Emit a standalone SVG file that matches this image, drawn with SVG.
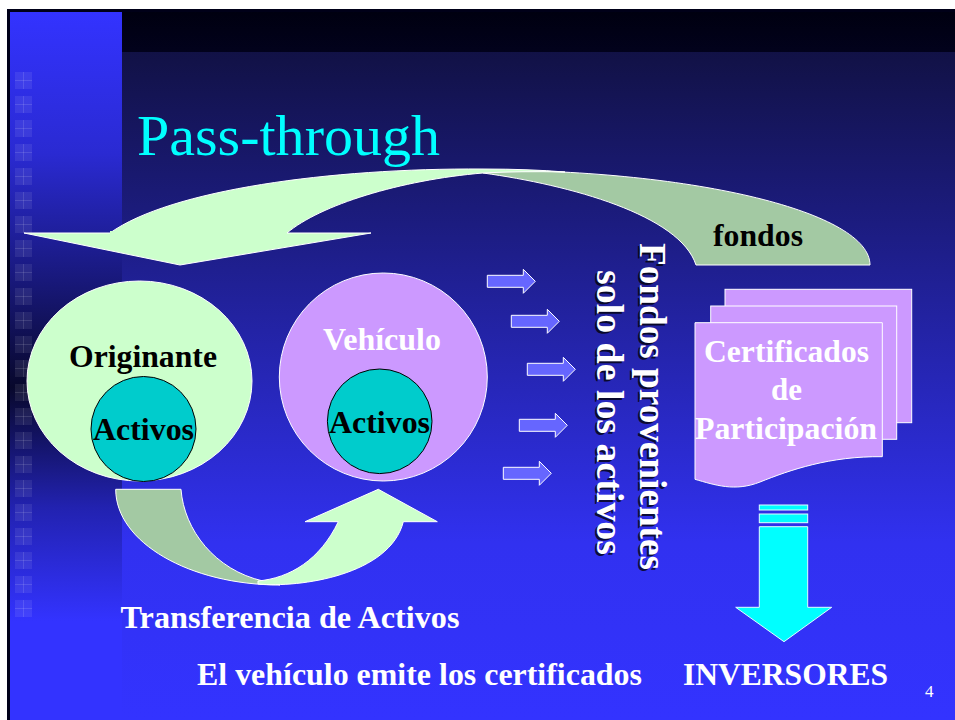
<svg xmlns="http://www.w3.org/2000/svg" width="955" height="720" viewBox="0 0 955 720">
<defs>
<linearGradient id="bg" x1="0" y1="0" x2="0" y2="1" gradientUnits="objectBoundingBox">
<stop offset="0" stop-color="#0f0f38"/>
<stop offset="0.3" stop-color="#1c1c80"/>
<stop offset="0.75" stop-color="#3131f0"/>
<stop offset="1" stop-color="#3333ff"/>
</linearGradient>
<linearGradient id="col" x1="0" y1="12" x2="0" y2="720" gradientUnits="userSpaceOnUse">
<stop offset="0" stop-color="#3333ff"/>
<stop offset="0.2" stop-color="#2a2ad2"/>
<stop offset="0.38" stop-color="#18187a"/>
<stop offset="0.53" stop-color="#08082c"/>
<stop offset="0.7" stop-color="#2222b0"/>
<stop offset="0.86" stop-color="#3333ff"/>
<stop offset="1" stop-color="#3333ff"/>
</linearGradient>
<linearGradient id="band" x1="0" y1="0" x2="0" y2="1">
<stop offset="0" stop-color="#000010"/>
<stop offset="1" stop-color="#02021c"/>
</linearGradient>
<path id="sarrow" d="M0,-6 H36 V-12 L48,0 L36,12 V6 H0 Z"/>
<g id="sq">
<rect x="0" y="0" width="17" height="17" fill="#ffffff" fill-opacity="0.08"/>
<path d="M8.5,0 V17 M0,8.5 H17" stroke="#ffffff" stroke-opacity="0.12" stroke-width="1"/>
</g>
</defs>
<style>
.lbl{font-family:"Liberation Serif","Times New Roman",serif;font-weight:bold;font-size:32px}
.dk{fill:#000000}
.wt{fill:#ffffff}
.edge{stroke:#ffffff;stroke-width:1}
.lg{fill:#ccffcc}
.dg{fill:#a3c9a3}
.pur{fill:#cc99ff}
.act{fill:#00cccc;stroke:#000000;stroke-width:1}
.sa{fill:#6666ff;stroke:#ffffff;stroke-width:1}
</style>
<rect x="0" y="0" width="955" height="720" fill="#ffffff"/>
<rect x="7" y="9" width="948" height="711" fill="#000018"/>
<rect x="10" y="12" width="945" height="708" fill="url(#bg)"/>
<rect x="122" y="12" width="833" height="40" fill="url(#band)"/>
<rect x="10" y="12" width="112" height="708" fill="url(#col)"/>
<g id="squares">
<use href="#sq" x="15" y="72"/><use href="#sq" x="15" y="96"/><use href="#sq" x="15" y="120"/><use href="#sq" x="15" y="144"/>
<use href="#sq" x="15" y="168"/><use href="#sq" x="15" y="192"/><use href="#sq" x="15" y="216"/><use href="#sq" x="15" y="240"/>
<use href="#sq" x="15" y="264"/><use href="#sq" x="15" y="288"/><use href="#sq" x="15" y="312"/><use href="#sq" x="15" y="336"/>
<use href="#sq" x="15" y="360"/><use href="#sq" x="15" y="384"/><use href="#sq" x="15" y="408"/><use href="#sq" x="15" y="432"/>
<use href="#sq" x="15" y="456"/><use href="#sq" x="15" y="480"/><use href="#sq" x="15" y="504"/><use href="#sq" x="15" y="528"/>
<use href="#sq" x="15" y="552"/><use href="#sq" x="15" y="576"/><use href="#sq" x="15" y="600"/>
</g>
<text x="137" y="155" font-family="'Liberation Serif','Times New Roman',serif" font-size="58" fill="#00ffff" textLength="303" lengthAdjust="spacingAndGlyphs">Pass-through</text>

<g id="connectors">
<g id="fondos-arrow">
<path class="dg edge" d="M483,170 C696.6,170 870,212.6 870,265 L696,265 C680,215 570,185 483,173 Z"/>
<path class="lg edge" d="M110,233 C170,190 330,168 483,169 Q530,169 565,172 Q520,171 483,173 C400,180 320,205 287,233 Z"/>
<path class="lg edge" d="M24,233 L371,233 L180,265 Z"/>
<path class="lg" d="M110,231 L287,231 L287,234 L110,234 Z"/>
</g>
<g id="transfer-arrow">
<path class="dg edge" d="M115.7,489.3 L181,489.3 C184,530 215,570 263,581 L280,585 C189.3,585 115.7,542.1 115.7,489.3 Z"/>
<path class="lg edge" d="M258,584 C300,588 390,575 403.3,521.7 L437.3,521.7 L378.3,489.3 L305,521.7 L338.3,521.7 C320,560 290,578 258,581 Z"/>
</g>
<g id="flow-arrows">
<use href="#sarrow" class="sa" x="487.3" y="281.3"/>
<use href="#sarrow" class="sa" x="511.3" y="321.3"/>
<use href="#sarrow" class="sa" x="527.3" y="369.3"/>
<use href="#sarrow" class="sa" x="519.3" y="425.3"/>
<use href="#sarrow" class="sa" x="503.3" y="473.3"/>
</g>
<g id="down-arrow" fill="#00ffff" stroke="#e0ffff" stroke-width="1">
<rect x="759.3" y="505" width="48.4" height="5"/>
<rect x="759.3" y="514" width="48.4" height="8.7"/>
<path d="M759.3,526.7 L807.7,526.7 L807.7,607.3 L831.7,607.3 L784,641.7 L735.7,607.3 L759.3,607.3 Z"/>
</g>
</g>

<text class="lbl dk" x="713" y="246" textLength="90" lengthAdjust="spacingAndGlyphs">fondos</text>

<g id="originante">
<ellipse class="lg edge" cx="139.5" cy="381" rx="112.5" ry="100"/>
<text class="lbl dk" x="69" y="367" textLength="148" lengthAdjust="spacingAndGlyphs">Originante</text>
<circle class="act" cx="143.5" cy="429" r="52.5"/>
<text class="lbl dk" x="93" y="440" textLength="101" lengthAdjust="spacingAndGlyphs">Activos</text>
</g>

<g id="vehiculo">
<circle class="pur edge" cx="383.3" cy="377" r="104"/>
<text class="lbl wt" x="323" y="350" textLength="118" lengthAdjust="spacingAndGlyphs">Vehículo</text>
<circle class="act" cx="379.7" cy="421.3" r="52.3"/>
<text class="lbl dk" x="329" y="433" textLength="101" lengthAdjust="spacingAndGlyphs">Activos</text>
</g>

<g id="fondos-provenientes" font-family="'Liberation Serif','Times New Roman',serif" font-weight="bold" font-size="37">
<g fill="#000000" fill-opacity="0.75">
<text transform="translate(638,245) rotate(90)" textLength="327" lengthAdjust="spacingAndGlyphs">Fondos provenientes</text>
<text transform="translate(595,272) rotate(90)" textLength="285" lengthAdjust="spacingAndGlyphs">solo de los activos</text>
</g>
<g fill="#ffffff">
<text transform="translate(640,243) rotate(90)" textLength="327" lengthAdjust="spacingAndGlyphs">Fondos provenientes</text>
<text transform="translate(597,270) rotate(90)" textLength="285" lengthAdjust="spacingAndGlyphs">solo de los activos</text>
</g>
</g>

<g id="certificados">
<rect class="pur edge" x="725" y="289.3" width="186.7" height="133.4"/>
<rect class="pur edge" x="710.7" y="306" width="186" height="133.3"/>
<path class="pur edge" d="M695,322.7 L882.3,322.7 L882.3,456.7 C830,456 790,470 760,482 C735,492 715,485 695,479.3 Z"/>
<text class="lbl wt" x="704" y="362" textLength="165" lengthAdjust="spacingAndGlyphs">Certificados</text>
<text class="lbl wt" x="771" y="400" textLength="31" lengthAdjust="spacingAndGlyphs">de</text>
<text class="lbl wt" x="695" y="438.5" textLength="182" lengthAdjust="spacingAndGlyphs">Participación</text>
</g>

<g id="inversores">
<text class="lbl wt" x="683" y="685" textLength="205" lengthAdjust="spacingAndGlyphs">INVERSORES</text>
</g>

<g id="captions">
<text class="lbl wt" x="120.5" y="628" textLength="339" lengthAdjust="spacingAndGlyphs">Transferencia de Activos</text>
<text class="lbl wt" x="197" y="685" textLength="445" lengthAdjust="spacingAndGlyphs">El vehículo emite los certificados</text>
<text x="925" y="697" font-family="'Liberation Serif','Times New Roman',serif" font-size="17" fill="#ffffff">4</text>
</g>
</svg>
